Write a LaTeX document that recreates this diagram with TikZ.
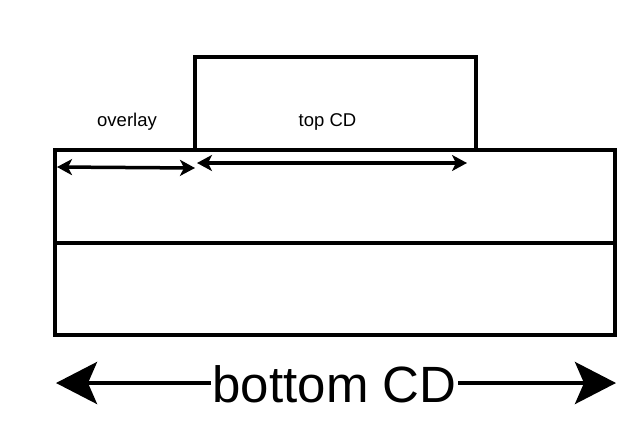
\documentclass[tikz,border=0pt]{standalone}
\usepackage{fontspec}
\setmainfont{Liberation Sans}
\usetikzlibrary{arrows.meta}
\begin{document}
\begin{tikzpicture}[x=1pt,y=-1pt,
  layer/.style={draw=black,line width=4pt,fill=none,inner sep=0pt,outer sep=0pt},
  smallarrow/.style={line width=3.5pt,{Stealth[length=15pt,width=16pt,inset=4pt]}-{Stealth[length=15pt,width=16pt,inset=4pt]}},
  bigarrow/.style={line width=4pt,{Stealth[length=41pt,width=42pt,inset=9pt]}-{Stealth[length=41pt,width=42pt,inset=9pt]}},
  smalllabel/.style={font=\fontsize{18.5}{21}\selectfont,inner sep=0pt,anchor=base},
  biglabel/.style={font=\fontsize{51}{60}\selectfont,fill=white,inner xsep=1.5pt,inner ysep=0pt,anchor=base}]
\useasboundingbox (0,0) rectangle (640,426);
% layers
\node[layer,minimum width=560pt,minimum height=93pt] (upper) at (335,196.5) {};
\node[layer,minimum width=560pt,minimum height=92pt] (lower) at (335,289) {};
\node[layer,minimum width=281pt,minimum height=93pt] (top) at (335.5,103.5) {};
% labels
\node[smalllabel] (ovl) at (127,126) {overlay};
\node[smalllabel] (tcd) at (327.5,126) {top CD};
% dimension arrows
\coordinate (o1) at (57,167);
\coordinate (o2) at (195,168);
\coordinate (t1) at (197,163);
\coordinate (t2) at (467,163);
\draw[smallarrow] (o1) -- (o2);
\draw[smallarrow] (t1) -- (t2);
\coordinate (b1) at (56,383);
\coordinate (b2) at (616,383);
\draw[bigarrow] (b1) -- (b2);
\node[biglabel] (bcd) at (334.5,402) {bottom CD};
\end{tikzpicture}
\end{document}
